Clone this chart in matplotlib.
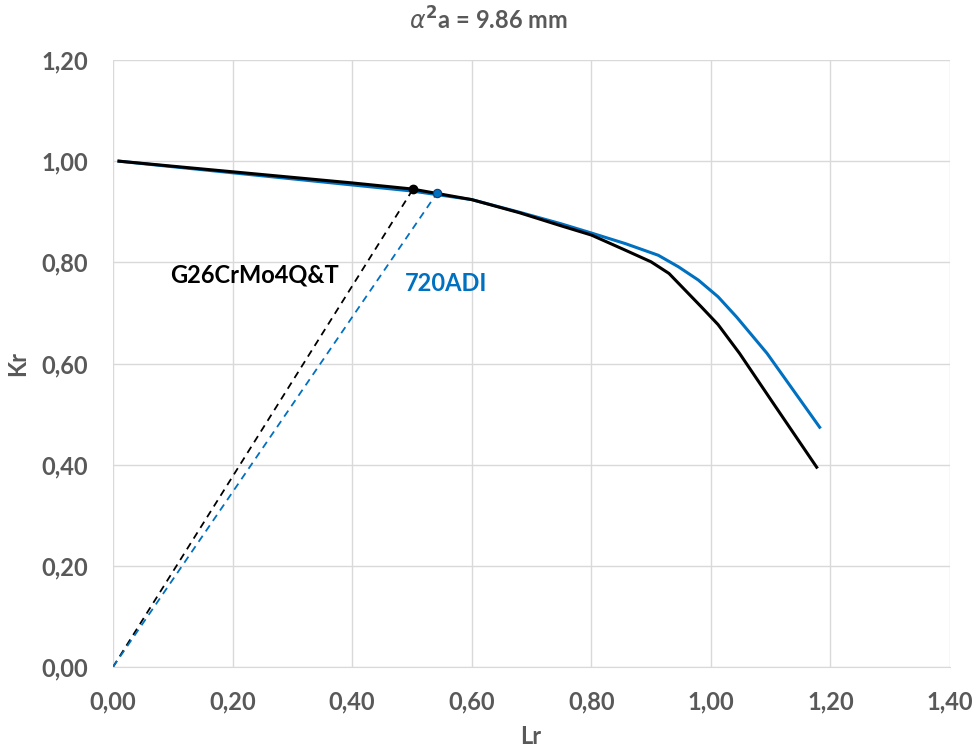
import matplotlib
matplotlib.use("Agg")
import matplotlib.pyplot as plt
from matplotlib.ticker import FixedLocator, FuncFormatter

plt.rcParams['font.family'] = ['Lato', 'DejaVu Sans']
plt.rcParams['mathtext.fontset'] = 'dejavusans'

# Data
black_lr = [0.01, 0.10, 0.20, 0.30, 0.40, 0.50, 0.60, 0.68, 0.75, 0.80, 0.857, 0.90, 0.93, 0.957, 0.984, 1.012, 1.048, 1.104, 1.177]
black_kr = [1.000, 0.990, 0.979, 0.968, 0.957, 0.945, 0.924, 0.898, 0.872, 0.854, 0.824, 0.801, 0.778, 0.745, 0.712, 0.677, 0.620, 0.522, 0.395]
blue_lr = [0.01, 0.10, 0.20, 0.30, 0.40, 0.50, 0.60, 0.68, 0.75, 0.80, 0.857, 0.912, 0.946, 0.979, 1.012, 1.043, 1.094, 1.182]
blue_kr = [1.000, 0.989, 0.977, 0.965, 0.953, 0.941, 0.924, 0.899, 0.876, 0.858, 0.837, 0.814, 0.791, 0.765, 0.732, 0.692, 0.620, 0.474]
black_point = (0.502, 0.945)
blue_point = (0.542, 0.937)
x_ticks = [0.0, 0.2, 0.4, 0.6, 0.8, 1.0, 1.2, 1.4]
y_ticks = [0.0, 0.2, 0.4, 0.6, 0.8, 1.0, 1.2]
label_black = "G26CrMo4Q&T"
label_blue = "720ADI"
title = r"$\alpha^{\mathbf{2}}$a = 9.86 mm"

BLUE = "#0070C0"
GRAY = "#595959"
GRID = "#D9D9D9"

fig = plt.figure(figsize=(9.79, 7.5), dpi=100)
ax = fig.add_axes([113/979, 1 - 667/750, (950-113)/979, (667-60)/750])

ax.plot(blue_lr, blue_kr, color=BLUE, lw=2.2, zorder=3, solid_joinstyle="round")
ax.plot(black_lr, black_kr, color="black", lw=2.2, zorder=4, solid_joinstyle="round")
ax.plot([0, black_point[0]], [0, black_point[1]], color="black", lw=1.3, ls=(0, (4, 3)), zorder=3)
ax.plot([0, blue_point[0]], [0, blue_point[1]], color=BLUE, lw=1.3, ls=(0, (4, 3)), zorder=3)
ax.plot([black_point[0]], [black_point[1]], 'o', color="black", ms=6, zorder=5)
ax.plot([blue_point[0]], [blue_point[1]], 'o', color=BLUE, mec="#1F3864", mew=0.8, ms=6, zorder=5)

ax.text(0.095, 0.775, label_black, color="black", fontsize=17, fontweight="bold", va="center", ha="left")
ax.text(0.488, 0.759, label_blue, color=BLUE, fontsize=17, fontweight="bold", va="center", ha="left")

ax.set_xlim(0, 1.4)
ax.set_ylim(0, 1.2)
ax.xaxis.set_major_locator(FixedLocator(x_ticks))
ax.yaxis.set_major_locator(FixedLocator(y_ticks))
fmt = FuncFormatter(lambda v, p: f"{v:.2f}".replace(".", ","))
ax.xaxis.set_major_formatter(fmt)
ax.yaxis.set_major_formatter(fmt)
ax.grid(True, color=GRID, lw=1.0)
ax.set_axisbelow(True)
for s in ["top", "right", "left"]:
    ax.spines[s].set_visible(False)
ax.spines["bottom"].set_color(GRID)
ax.tick_params(axis="y", length=0, labelsize=17, labelcolor=GRAY, pad=18)
ax.tick_params(axis="x", length=0, labelsize=17, labelcolor=GRAY, pad=17)
for lbl in ax.get_xticklabels() + ax.get_yticklabels():
    lbl.set_fontweight("bold")

fig.text(531/979, 1 - 737/750, "Lr", color=GRAY, fontsize=17, fontweight="bold", ha="center", va="center")
fig.text(18/979, 1 - 363/750, "Kr", color=GRAY, fontsize=17, fontweight="bold", ha="center", va="center", rotation=90)
fig.text(488/979, 1 - 20/750, title, color=GRAY, fontsize=17, fontweight="bold", ha="center", va="center")

fig.savefig("out.png", dpi=100, facecolor="white")
